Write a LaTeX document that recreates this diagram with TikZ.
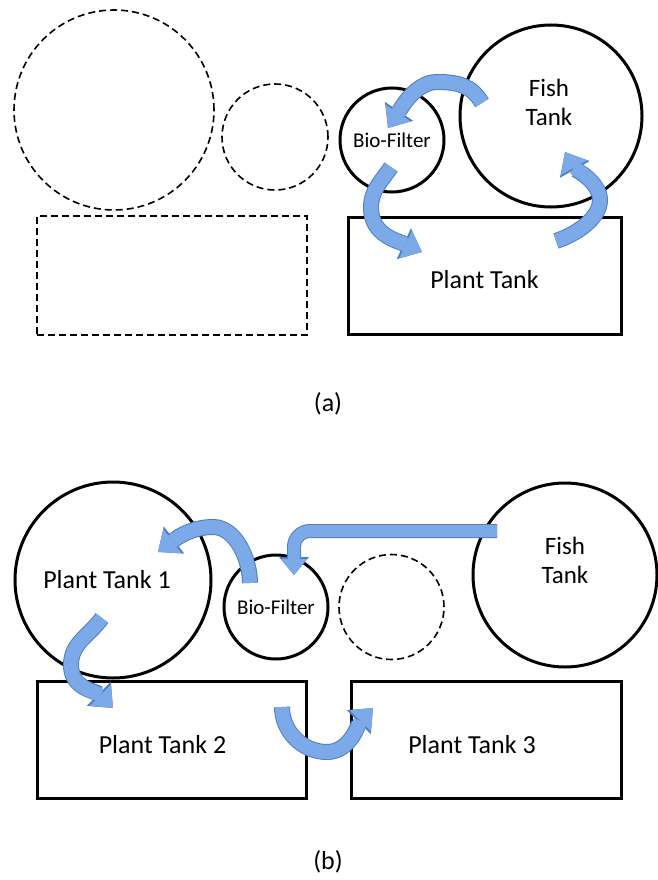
\documentclass[tikz,border=0pt]{standalone}
\usepackage{fontspec}
\setmainfont{Carlito}
\usetikzlibrary{arrows.meta, positioning}
\definecolor{flowblue}{RGB}{124,169,231}
\definecolor{flowedge}{RGB}{80,128,196}

\begin{document}
\begin{tikzpicture}[x=1pt, y=-1pt, font=\fontsize{26}{31}\selectfont,
  tank/.style={draw, circle, line width=3pt, inner sep=0pt},
  bed/.style={draw, rectangle, line width=3pt, inner sep=0pt},
  spare/.style={draw, line width=1.6pt, dash pattern=on 7pt off 4pt, inner sep=0pt},
  filter/.style={font=\fontsize{21}{25}\selectfont},
  twoline/.style={align=center, font=\fontsize{25}{29}\selectfont},
  flow/.style={draw=flowblue, line width=14pt, -{Triangle[width=30pt, length=18pt, line width=0pt]},
    preaction={draw=flowedge, line width=16pt, -{Triangle[width=34pt, length=20pt, line width=0pt]}}},
  thinflow/.style={draw=flowblue, line width=12pt, -{Triangle[width=26pt, length=16pt, line width=0pt]},
    preaction={draw=flowedge, line width=14pt, -{Triangle[width=30pt, length=18pt, line width=0pt]}}}]
  \useasboundingbox (0,0) rectangle (657,880);

  % (a) Anordnung mit freien Plaetzen
  \node[spare, circle, minimum size=200pt] (bigspare) at (114,110) {};
  \node[spare, circle, minimum size=106pt] (smallspare) at (275,137) {};
  \node[spare, minimum width=270pt, minimum height=119pt] (bedspare) at (172,275.5) {};
  \node[tank, filter, minimum size=104pt] (bioa) at (392,140) {Bio-Filter};
  \node[tank, minimum size=182pt, label={[twoline, xshift=-2pt, yshift=14pt]center:Fish\\Tank}] (fisha) at (551,116) {};
  \node[bed, minimum width=273pt, minimum height=117pt, label={[yshift=-4pt]center:Plant Tank}] (planta) at (484.5,275.5) {};
  \node (capa) at (328,404) {(a)};

  % Kreislauf (a)
  \coordinate (a1s) at (482,103);
  \coordinate (a1m) at (437,82);
  \coordinate (a1e) at (388,128);
  \coordinate (a2s) at (391,167);
  \coordinate (a2m) at (371,208);
  \coordinate (a2e) at (422,252);
  \coordinate (a3s) at (556,241);
  \coordinate (a3m) at (600,200);
  \coordinate (a3e) at (565,152);
  \draw[flow] (a1s) .. controls (472,86) and (459,82) .. (a1m) .. controls (415,82) and (400,110) .. (a1e);
  \draw[flow] (a2s) .. controls (381,182) and (371,190) .. (a2m) .. controls (371,235) and (398,241) .. (a2e);
  \draw[flow] (a3s) .. controls (577,234) and (600,218) .. (a3m) .. controls (600,182) and (574,168) .. (a3e);

  % (b) Anordnung mit drei Pflanzenbecken
  \node[tank, minimum size=196pt, label={[xshift=-6pt]center:Plant Tank 1}] (plant1) at (113,580) {};
  \node[tank, filter, minimum size=104pt] (biob) at (276,607) {Bio-Filter};
  \node[spare, circle, minimum size=105pt] (sparec) at (391.5,607) {};
  \node[tank, minimum size=184pt, label={[twoline, yshift=15pt]center:Fish\\Tank}] (fishb) at (565,575) {};
  \node[bed, minimum width=269pt, minimum height=117pt, label={[xshift=-9pt, yshift=-5pt]center:Plant Tank 2}] (plant2) at (171.5,739.5) {};
  \node[bed, minimum width=270pt, minimum height=117pt, label={[xshift=-14pt, yshift=-5pt]center:Plant Tank 3}] (plant3) at (486,739.5) {};
  \node (capb) at (328,862) {(b)};

  % Kreislauf (b)
  \coordinate (b1s) at (250,583);
  \coordinate (b1m) at (213,527);
  \coordinate (b1e) at (158,552);
  \coordinate (b2s) at (497,531);
  \coordinate (b2e) at (294,575);
  \coordinate (b3s) at (102,618);
  \coordinate (b3m) at (71,665);
  \coordinate (b3e) at (113,708);
  \coordinate (b4s) at (282,707);
  \coordinate (b4m) at (327,752);
  \coordinate (b4e) at (373,708);
  \draw[flow] (b1s) .. controls (250,560) and (236,527) .. (b1m) .. controls (190,527) and (174,540) .. (b1e);
  \draw[thinflow, rounded corners=16pt] (b2s) -| (b2e);
  \draw[flow] (b3s) .. controls (89,636) and (71,643) .. (b3m) .. controls (71,689) and (96,691) .. (b3e);
  \draw[flow] (b4s) .. controls (282,732) and (303,752) .. (b4m) .. controls (351,752) and (360,721) .. (b4e);
\end{tikzpicture}
\end{document}
